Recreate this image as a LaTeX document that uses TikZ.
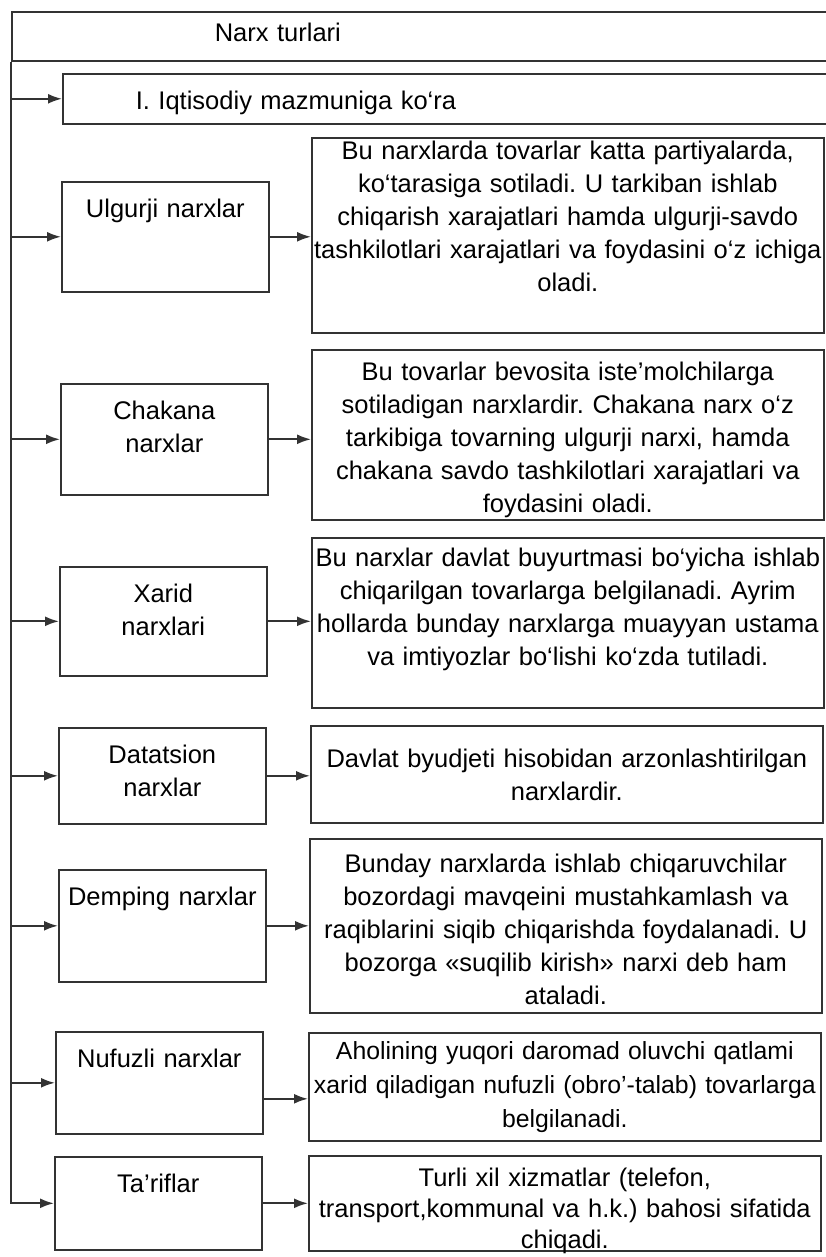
\documentclass[tikz,border=0pt]{standalone}
\usepackage{fontspec}
\setmainfont{Liberation Sans}
\usetikzlibrary{positioning, arrows.meta}
\frenchspacing
\newcommand\bodyfont{\fontsize{25.5}{33}\selectfont}
\tikzset{
  tbox/.style={draw=black!80, line width=1.6pt, anchor=north west, align=center, font=\bodyfont, text=black, inner ysep=0pt, text height=36pt},
  headbox/.style={tbox, text width=830pt, inner xsep=0pt, align=left},
  kind/.style={tbox, text width=200pt, inner xsep=3.5pt},
  note/.style={tbox, text width=512pt, inner xsep=0pt},
  arr/.style={-{Latex[length=14pt,width=10pt]}, line width=2pt, draw=black!80}
}
\begin{document}
\begin{tikzpicture}[x=1pt, y=-1pt]
\useasboundingbox (0,0) rectangle (826,1257);
\clip (0,0) rectangle (826,1257);
% headings
\node[headbox, text height=30pt, text depth=19pt] (narx) at (11,11) {\hspace*{203pt}Narx turlari};
\node[headbox, text depth=14pt] (iqt) at (62,73) {\hspace*{73pt}I. Iqtisodiy mazmuniga ko‘ra};
% kinds of prices
\node[kind, text depth=74pt] (ulg) at (61,181) {Ulgurji narxlar};
\node[kind, text depth=75pt] (cha) at (60,383) {Chakana\\narxlar};
\node[kind, text depth=73pt] (xar) at (59,566) {Xarid\\narxlari};
\node[kind, text depth=60pt] (dat) at (58,727) {Datatsion\\narxlar};
\node[kind, text depth=76pt] (dem) at (58,869) {Demping narxlar};
\node[kind, text depth=66pt] (nuf) at (55,1031) {Nufuzli narxlar};
\node[kind, text depth=57pt] (tar) at (54,1156) {Ta’riflar};
% explanations
\node[note, text height=22pt, text depth=173pt] (d1) at (311,137) {Bu narxlarda tovarlar katta partiyalarda,\\ko‘tarasiga sotiladi. U tarkiban ishlab\\chiqarish xarajatlari hamda ulgurji-savdo\\tashkilotlari xarajatlari va foydasini o‘z ichiga\\oladi.};
\node[note, text height=31pt, text depth=139pt] (d2) at (311,349) {Bu tovarlar bevosita iste’molchilarga\\sotiladigan narxlardir. Chakana narx o‘z\\tarkibiga tovarning ulgurji narxi, hamda\\chakana savdo tashkilotlari xarajatlari va\\foydasini oladi.};
\node[note, text height=29pt, text depth=141pt] (d3) at (311,537) {Bu narxlar davlat buyurtmasi bo‘yicha ishlab\\chiqarilgan tovarlarga belgilanadi. Ayrim\\hollarda bunday narxlarga muayyan ustama\\va imtiyozlar bo‘lishi ko‘zda tutiladi.};
\node[note, text height=42pt, text depth=55pt] (d4) at (310,725) {Davlat byudjeti hisobidan arzonlashtirilgan\\narxlardir.};
\node[note, text height=34pt, text depth=140pt] (d5) at (309,838) {Bunday narxlarda ishlab chiqaruvchilar\\bozordagi mavqeini mustahkamlash va\\raqiblarini siqib chiqarishda foydalanadi. U\\bozorga «suqilib kirish» narxi deb ham\\ataladi.};
\node[note, text height=27pt, text depth=81pt, font=\fontsize{24.8}{34}\selectfont] (d6) at (308,1032) {Aholining yuqori daromad oluvchi qatlami\\xarid qiladigan nufuzli (obro’-talab) tovarlarga\\belgilanadi.};
\node[note, text height=31pt, text depth=64pt, font=\fontsize{25.5}{31}\selectfont] (d7) at (308,1155) {Turli xil xizmatlar (telefon,\\transport,kommunal va h.k.) bahosi sifatida\\chiqadi.};
% left trunk
\draw[arr] (narx.south west) |- (iqt.west);
\draw[arr] (narx.south west) |- (ulg.west);
\draw[arr] (narx.south west) |- (cha.west);
\draw[arr] (narx.south west) |- (xar.west);
\draw[arr] (narx.south west) |- (dat.west);
\draw[arr] (narx.south west) |- (dem.west);
\draw[arr] (narx.south west) |- (nuf.west);
\draw[arr] (narx.south west) |- (tar.west);
% to the explanations
\draw[arr] (ulg.east) -- (ulg.east -| d1.west);
\draw[arr] (cha.east) -- (cha.east -| d2.west);
\draw[arr] (xar.east) -- (xar.east -| d3.west);
\draw[arr] (dat.east) -- (dat.east -| d4.west);
\draw[arr] (dem.east) -- (dem.east -| d5.west);
\draw[arr] ([yshift=-16pt]nuf.east) -- ([yshift=-16pt]nuf.east -| d6.west);
\draw[arr] (tar.east) -- (tar.east -| d7.west);
\end{tikzpicture}
\end{document}
